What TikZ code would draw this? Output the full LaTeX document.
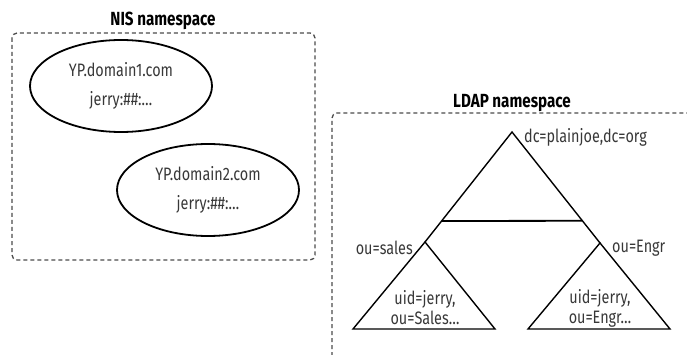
\documentclass[tikz,border=0pt]{standalone}
\usepackage{fontspec}
\setmainfont{Fira Sans}[FakeStretch=0.8]
\usetikzlibrary{shapes.geometric,calc}
\definecolor{txtgray}{HTML}{383838}
\begin{document}
\begin{tikzpicture}[x=1pt,y=-1pt,
  bodytext/.style={font=\fontsize{18}{29}\selectfont,text=txtgray,inner sep=0pt},
  smalltext/.style={font=\fontsize{18}{20}\selectfont,text=txtgray,inner sep=0pt,align=center},
  titletext/.style={font=\fontsize{19}{22}\selectfont\bfseries,text=black,inner sep=0pt},
  nsbox/.style={draw=black!70,line width=1.3pt,dash pattern=on 4pt off 3pt},
  nisdomain/.style={ellipse,draw,line width=1.8pt,minimum width=182pt,minimum height=92pt,align=center,
     font=\fontsize{18}{29}\selectfont,text=txtgray,inner sep=0pt},
  tri/.style={draw,line width=1.4pt,line join=miter}]
\useasboundingbox (0,0) rectangle (687,355);
% NIS namespace
\draw[nsbox,rounded corners=5pt] (12,33) rectangle (315,260);
\node[titletext] (nist) at (163,21) {NIS namespace};
\node[nisdomain] (e1) at (121,86) {YP.domain1.com\\jerry:\#\#:\ldots};
\node[nisdomain] (e2) at (208,190) {YP.domain2.com\\jerry:\#\#:\ldots};
% LDAP namespace
\draw[nsbox,rounded corners=5pt] (332,356) -- (332,113) -- (688,113);
\node[titletext] (ldapt) at (512,103) {LDAP namespace};
% tree
\coordinate (apex) at (512,132);
\coordinate (L) at (425,242);
\coordinate (R) at (600,243);
\coordinate (LL) at (353,329);
\coordinate (LR) at (495,329);
\coordinate (RL) at (528,329);
\coordinate (RR) at (670,329);
\draw[tri] (L) -- (apex) -- (R);
\draw[tri,line width=1.8pt] ($(apex)!0.809!(L)$) -- ($(apex)!0.80!(R)$);
\draw[tri] (L) -- (LL) -- (LR) -- cycle;
\draw[tri] (R) -- (RL) -- (RR) -- cycle;
\node[bodytext,anchor=west] (dc) at (524,137) {dc=plainjoe,dc=org};
\node[bodytext,anchor=east] (ous) at (413,248) {ou=sales};
\node[bodytext,anchor=west] (oue) at (612,248) {ou=Engr};
\node[smalltext] (us) at (425,308) {uid=jerry,\\ou=Sales\ldots};
\node[smalltext] (ue) at (600,308) {uid=jerry,\\ou=Engr\ldots};
\end{tikzpicture}
\end{document}
